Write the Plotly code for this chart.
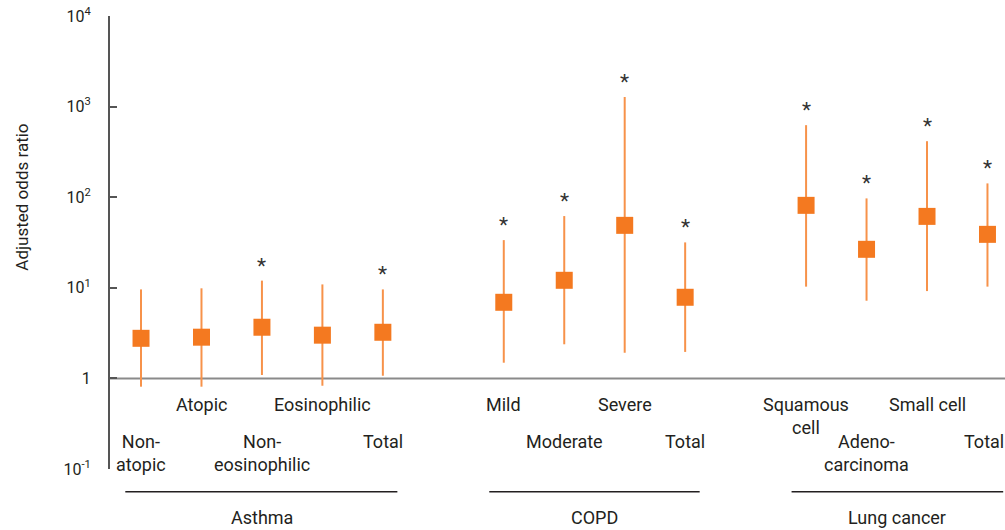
import math
import plotly.graph_objects as go

# ---- data ----
categories = ["Non-atopic", "Atopic", "Non-eosinophilic", "Eosinophilic", "Total",
              "Mild", "Moderate", "Severe", "Total",
              "Squamous cell", "Adenocarcinoma", "Small cell", "Total"]
label_text = ["Non-<br>atopic", "Atopic", "Non-<br>eosinophilic", "Eosinophilic", "Total",
              "Mild", "Moderate", "Severe", "Total",
              "Squamous<br>cell", "Adeno-<br>carcinoma", "Small cell", "Total"]
label_row = [2, 1, 2, 1, 2, 1, 2, 1, 2, 1, 2, 1, 2]
x_pos = [0, 1, 2, 3, 4, 6, 7, 8, 9, 11, 12, 13, 14]
odds = [2.77, 2.85, 3.67, 3.0, 3.23, 6.92, 12.1, 48.9, 7.86, 81.3, 26.6, 61.4, 38.9]
upper = [9.6, 9.87, 12.0, 10.9, 9.6, 33.6, 61.9, 1280, 31.7, 624, 97, 415, 142]
lower = [0.81, 0.81, 1.09, 0.83, 1.07, 1.49, 2.38, 1.92, 1.96, 10.3, 7.2, 9.2, 10.3]
significant = [False, False, True, False, True, True, True, True, True, True, True, True, True]

groups = ["Asthma", "COPD", "Lung cancer"]
group_start = [-0.26, 5.76, 10.76]
group_end = [4.24, 9.24, 14.26]
group_center = [2.0, 7.5, 12.5]

tick_vals = [0.1, 1, 10, 100, 1000, 10000]
tick_text = ["10<sup>-1</sup>", "1", "10<sup>1</sup>", "10<sup>2</sup>", "10<sup>3</sup>", "10<sup>4</sup>"]

FONT = "Roboto, Liberation Sans, sans-serif"
TXT = "#231f20"

fig = go.Figure()

fig.add_trace(go.Scatter(
    x=x_pos, y=odds, mode="markers",
    marker=dict(symbol="square", size=17, color="#f47920", line=dict(width=0)),
    error_y=dict(type="data", symmetric=False,
                 array=[u - o for u, o in zip(upper, odds)],
                 arrayminus=[o - l for o, l in zip(odds, lower)],
                 width=0, thickness=2, color="#f7924a"),
    showlegend=False, hoverinfo="skip"))

annotations = []
for x, u, s in zip(x_pos, upper, significant):
    if s:
        annotations.append(dict(x=x, y=math.log10(u), xref="x", yref="y", text="*",
                                showarrow=False, yanchor="bottom", xanchor="center", yshift=1,
                                font=dict(family=FONT, size=21, color="#333333")))

row_y = {1: 0.170, 2: 0.0886}
n = len(x_pos)
for i, (x, t, r) in enumerate(zip(x_pos, label_text, label_row)):
    annotations.append(dict(x=x, y=row_y[r], xref="x", yref="paper", text=t,
                            showarrow=False, yanchor="top", xanchor="center",
                            xshift=-3 if i == n - 1 else 0,
                            font=dict(family=FONT, size=18, color=TXT)))
shapes = []
for g, s, e, c in zip(groups, group_start, group_end, group_center):
    shapes.append(dict(type="line", xref="x", yref="paper", x0=s, x1=e, y0=-0.0503, y1=-0.0503,
                       line=dict(color="#231f20", width=1.5)))
    annotations.append(dict(x=c, y=-0.079, xref="x", yref="paper", text=g, showarrow=False,
                            yanchor="top", xanchor="center",
                            font=dict(family=FONT, size=18, color=TXT)))
shapes.append(dict(type="line", xref="paper", yref="y", x0=0, x1=1, y0=1, y1=1,
                   line=dict(color="#8a8a8a", width=2), layer="below"))
annotations.append(dict(x=-0.0983, y=0.599, xref="paper", yref="paper", text="Adjusted odds ratio",
                        textangle=-90, showarrow=False, xanchor="center", yanchor="middle",
                        font=dict(family=FONT, size=17, color=TXT)))

fig.update_layout(
    width=1005, height=530,
    margin=dict(l=110, r=0, t=16, b=61),
    plot_bgcolor="white", paper_bgcolor="white",
    xaxis=dict(range=[-0.513, 14.29], showgrid=False, zeroline=False, showline=False,
               showticklabels=False, ticks=""),
    yaxis=dict(type="log", range=[-1, 4], showgrid=False, zeroline=False,
               showline=True, linecolor="#555555", linewidth=2,
               tickvals=tick_vals, ticktext=tick_text, ticks="inside", ticklen=7,
               tickcolor="#555555", tickwidth=1.5, ticklabelstandoff=14,
               tickfont=dict(family=FONT, size=16, color=TXT)),
    annotations=annotations, shapes=shapes,
    font=dict(family=FONT, color=TXT),
)

fig.write_html("out.html", config={"displayModeBar": False},
               post_script="document.body.style.margin='0';")
